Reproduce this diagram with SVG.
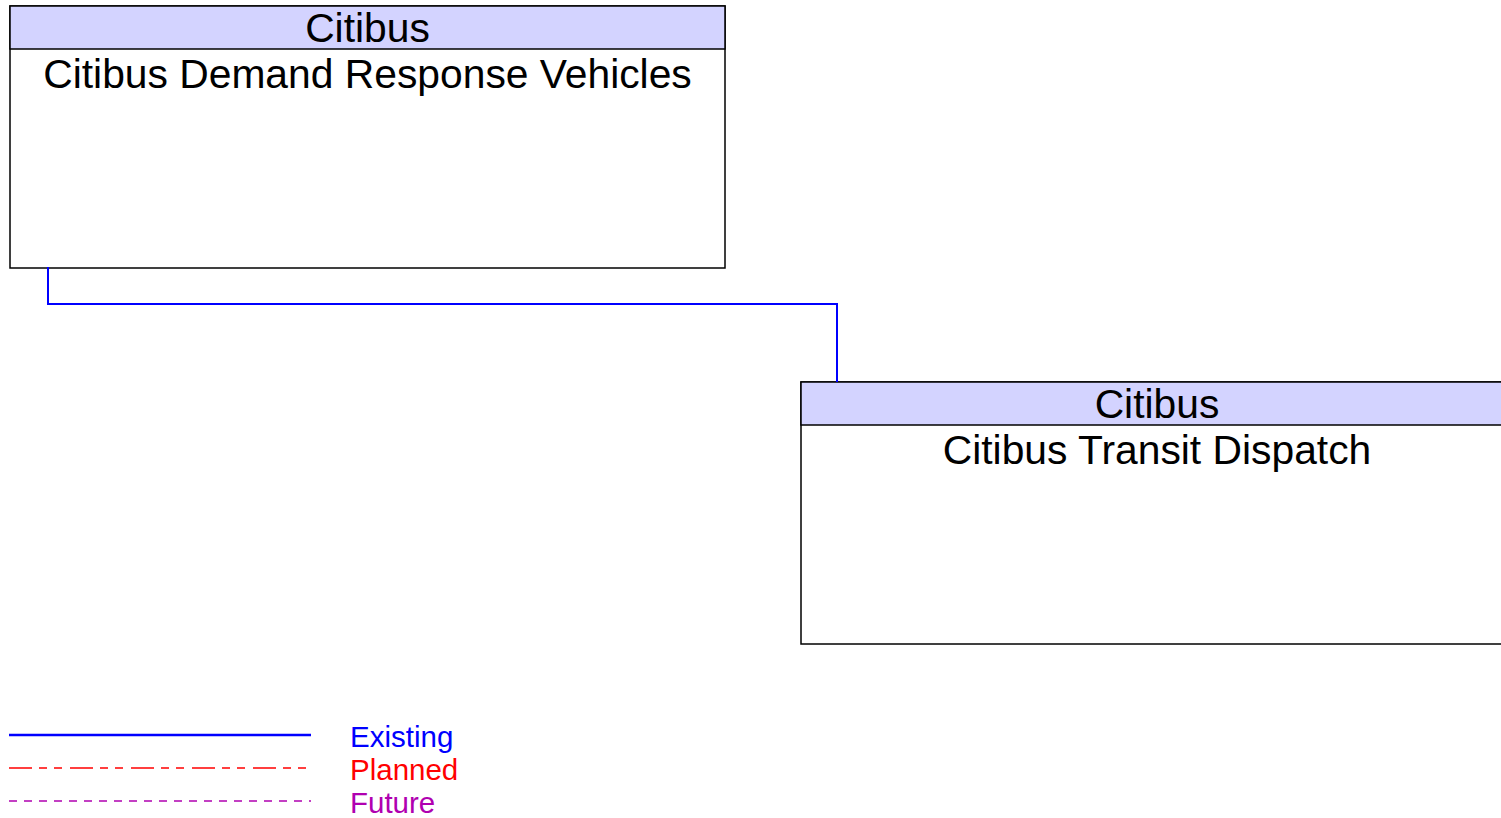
<svg xmlns="http://www.w3.org/2000/svg" width="1501" height="818" viewBox="0 0 1501 818">
<style>
.box{fill:#ffffff;stroke:#000000;stroke-width:1.5}
.hdr{fill:#d3d3ff;stroke:#000000;stroke-width:1.5}
.t{font-family:"Liberation Sans",Arial,sans-serif;font-size:40.8px;fill:#000000;text-anchor:middle}
.lg{font-family:"Liberation Sans",Arial,sans-serif;font-size:29.5px}
.conn{fill:none;stroke:#0000ff;stroke-width:2}
</style>
<rect width="1501" height="818" fill="#ffffff"/>
<g id="node-vehicles">
<rect class="box" x="10" y="6" width="715" height="262"/>
<rect class="hdr" x="10" y="6" width="715" height="43"/>
<text class="t" x="367.5" y="42">Citibus</text>
<text class="t" x="367.5" y="88">Citibus Demand Response Vehicles</text>
</g>
<g id="node-dispatch">
<rect class="box" x="801" y="382" width="712" height="262"/>
<rect class="hdr" x="801" y="382" width="712" height="43"/>
<text class="t" x="1157" y="418">Citibus</text>
<text class="t" x="1157" y="464">Citibus Transit Dispatch</text>
</g>
<g id="connectors">
<polyline class="conn" points="48,267 48,304 837,304 837,382"/>
</g>
<g id="legend">
<line x1="9" y1="735" x2="311" y2="735" stroke="#0000ff" stroke-width="2.5"/>
<line x1="9" y1="768" x2="311" y2="768" stroke="#ff0000" stroke-width="1.5" stroke-dasharray="23,7,8,7,8,8"/>
<line x1="9" y1="801" x2="311" y2="801" stroke="#b000b0" stroke-width="1.5" stroke-dasharray="8,7"/>
<text class="lg" x="350" y="747" fill="#0000ff">Existing</text>
<text class="lg" x="350" y="780" fill="#ff0000">Planned</text>
<text class="lg" x="350" y="813" fill="#b000b0">Future</text>
</g>
</svg>
